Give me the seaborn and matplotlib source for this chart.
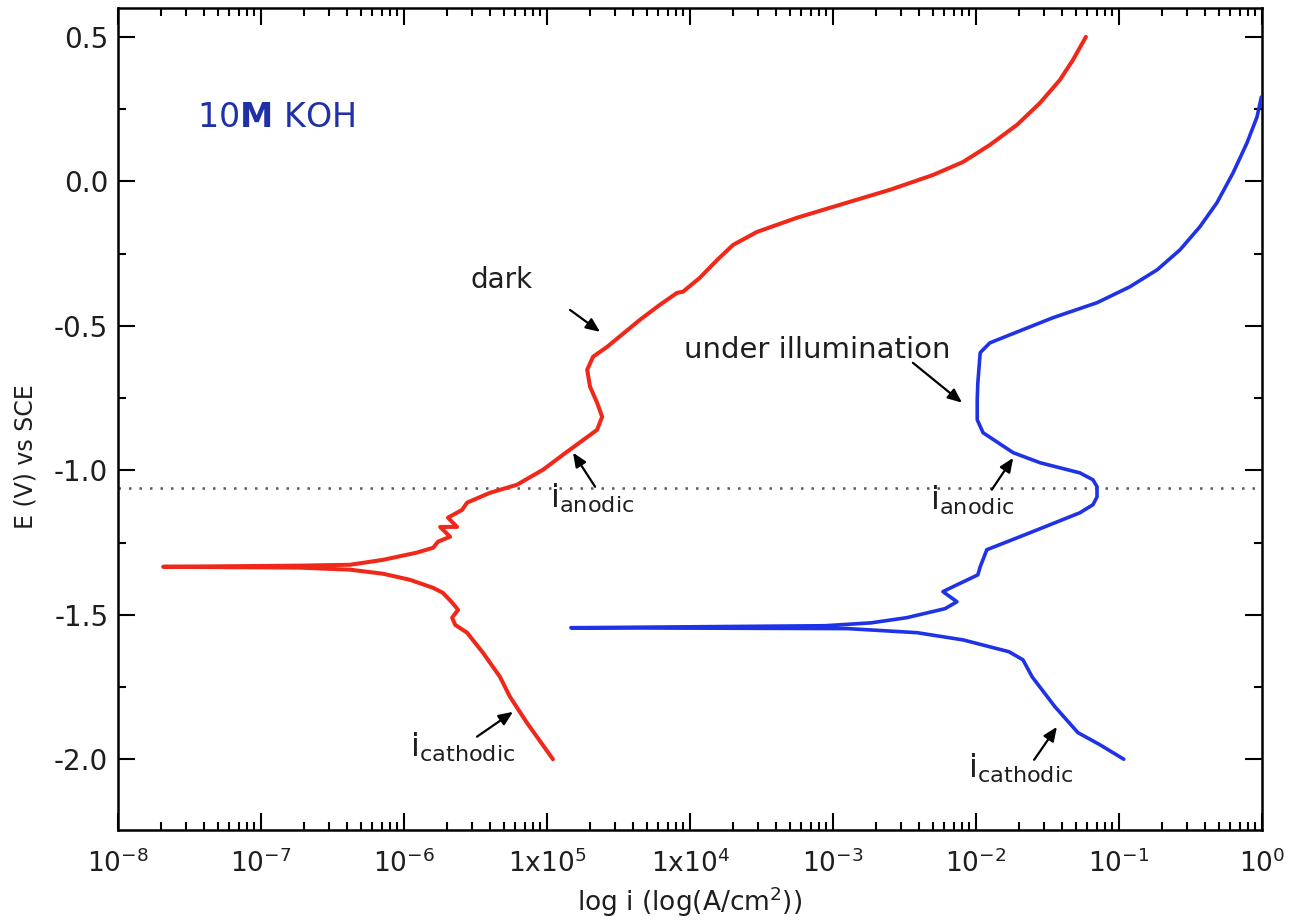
import numpy as np
import pandas as pd
import matplotlib
matplotlib.use("Agg")
import matplotlib.pyplot as plt
import seaborn as sns
from matplotlib.ticker import FixedLocator, LogLocator, MultipleLocator, NullFormatter, FormatStrFormatter

# ---------------- data ----------------
# dark: cathodic branch (from -2.0 V up to Ecorr) followed by anodic branch
dark_current = [1.10e-5, 7.24e-6, 5.51e-6, 4.69e-6, 3.56e-6, 2.76e-6, 2.28e-6, 2.17e-6,
                2.39e-6, 2.17e-6, 1.87e-6, 1.60e-6, 1.10e-6, 7.13e-7, 4.19e-7, 1.88e-7, 2.07e-8,
                1.88e-7, 4.19e-7, 7.13e-7, 1.23e-6, 1.60e-6, 1.73e-6, 2.10e-6, 1.79e-6, 2.35e-6,
                2.03e-6, 2.55e-6, 2.76e-6, 3.99e-6, 6.17e-6, 9.38e-6, 1.38e-5, 2.24e-5, 2.43e-5,
                2.24e-5, 2.00e-5, 1.91e-5, 2.10e-5, 2.63e-5, 4.47e-5, 6.17e-5, 8.11e-5, 8.93e-5,
                1.17e-4, 1.55e-4, 2.00e-4, 2.94e-4, 5.60e-4, 1.12e-3, 2.51e-3, 5.00e-3, 8.11e-3,
                1.25e-2, 1.94e-2, 2.81e-2, 3.86e-2, 4.76e-2, 5.87e-2]
dark_potential = [-2.000, -1.874, -1.784, -1.715, -1.631, -1.562, -1.535, -1.510,
                  -1.483, -1.458, -1.424, -1.407, -1.379, -1.358, -1.344, -1.337, -1.334,
                  -1.330, -1.327, -1.310, -1.285, -1.268, -1.247, -1.230, -1.196, -1.196,
                  -1.164, -1.137, -1.112, -1.078, -1.050, -0.998, -0.936, -0.860, -0.815,
                  -0.766, -0.711, -0.652, -0.607, -0.573, -0.479, -0.427, -0.386, -0.382,
                  -0.334, -0.272, -0.220, -0.175, -0.126, -0.081, -0.029, 0.022, 0.067,
                  0.126, 0.196, 0.272, 0.351, 0.420, 0.500]

# under illumination
light_current = [0.108, 0.0736, 0.0516, 0.0356, 0.0247, 0.0213, 0.0170, 8.11e-3, 3.86e-3,
                 1.27e-3, 1.47e-5,
                 8.79e-4, 1.85e-3, 3.29e-3, 6.07e-3, 7.36e-3, 5.87e-3, 6.90e-3, 1.03e-2,
                 1.07e-2, 1.19e-2, 2.39e-2, 5.33e-2, 6.58e-2, 7.02e-2, 7.02e-2, 6.58e-2,
                 5.33e-2, 2.81e-2, 1.82e-2, 1.12e-2, 1.02e-2, 1.02e-2, 1.03e-2, 1.07e-2,
                 1.25e-2, 1.73e-2, 3.45e-2, 7.02e-2, 0.119, 0.185, 0.267, 0.368, 0.484,
                 0.627, 0.785, 0.923, 0.99]
light_potential = [-2.000, -1.950, -1.908, -1.818, -1.715, -1.656, -1.628, -1.587, -1.562,
                   -1.548, -1.545,
                   -1.538, -1.528, -1.510, -1.479, -1.455, -1.420, -1.403, -1.362,
                   -1.334, -1.275, -1.216, -1.147, -1.119, -1.092, -1.057, -1.033,
                   -1.009, -0.974, -0.939, -0.870, -0.825, -0.756, -0.697, -0.593,
                   -0.559, -0.531, -0.472, -0.420, -0.365, -0.306, -0.237, -0.157, -0.074,
                   0.029, 0.133, 0.223, 0.292]

reference_potential = [-1.06]

xtick_values = [1e-8, 1e-7, 1e-6, 1e-5, 1e-4, 1e-3, 1e-2, 1e-1, 1e0]
xtick_labels = [r"$10^{-8}$", r"$10^{-7}$", r"$10^{-6}$", r"1x10$^{5}$", r"1x10$^{4}$",
                r"$10^{-3}$", r"$10^{-2}$", r"$10^{-1}$", r"$10^{0}$"]

# ---------------- style ----------------
sns.set_theme(style="ticks")
plt.rcParams["font.family"] = ["DejaVu Sans"]
plt.rcParams["mathtext.fontset"] = "dejavusans"
plt.rcParams["axes.unicode_minus"] = False

RED = "#f0281a"
BLUE = "#1e32e6"
TXT = "#1e1e1e"

fig, ax = plt.subplots(figsize=(12.89, 9.24), dpi=100)
fig.subplots_adjust(left=118 / 1289, right=1262 / 1289, top=1 - 8 / 924, bottom=1 - 830 / 924)

dark_df = pd.DataFrame({"current": dark_current, "potential": dark_potential})
light_df = pd.DataFrame({"current": light_current, "potential": light_potential})

ax.axhline(reference_potential[0], color="#5a5a5a", linestyle=(0, (1, 3.2)), linewidth=1.8, zorder=1)

sns.lineplot(data=dark_df, x="current", y="potential", sort=False, estimator=None,
             color=RED, linewidth=2.9, ax=ax, zorder=3)
sns.lineplot(data=light_df, x="current", y="potential", sort=False, estimator=None,
             color=BLUE, linewidth=2.6, ax=ax, zorder=3)

ax.set_xscale("log")
ax.set_xlim(1e-8, 1e0)
ax.set_ylim(-2.245, 0.6)

ax.xaxis.set_major_locator(FixedLocator(xtick_values))
ax.set_xticklabels(xtick_labels)
ax.xaxis.set_minor_locator(LogLocator(base=10, subs=np.arange(2, 10), numticks=100))
ax.xaxis.set_minor_formatter(NullFormatter())
ax.yaxis.set_major_locator(MultipleLocator(0.5))
ax.yaxis.set_minor_locator(MultipleLocator(0.25))
ax.yaxis.set_major_formatter(FormatStrFormatter("%.1f"))

ax.tick_params(which="both", direction="in", top=True, right=True, color="black", width=1.5)
ax.tick_params(which="major", length=12)
ax.tick_params(which="minor", length=6)
ax.tick_params(axis="x", which="major", pad=14, labelsize=19, labelcolor=TXT)
ax.tick_params(axis="y", which="major", pad=7, labelsize=20, labelcolor=TXT)

for sp in ax.spines.values():
    sp.set_linewidth(1.8)
    sp.set_color("black")

ax.set_xlabel(r"log i (log(A/cm$^{2}$))", fontsize=19, color=TXT, va="center")
ax.xaxis.set_label_coords(0.5, -0.0875)
ax.set_ylabel("E (V) vs SCE", fontsize=17, color=TXT, va="center")
ax.yaxis.set_label_coords(-0.081, 0.454)

# ---------------- annotations ----------------
ax.text(3.56e-8, 0.220, r"10$\mathbf{M}$ KOH", color="#2030a8", fontsize=24, va="center", ha="left")

arrow = dict(arrowstyle="-|>,head_length=0.7,head_width=0.3", color="black", lw=1.6, shrinkA=0, shrinkB=0)

ax.text(4.84e-6, -0.341, "dark", fontsize=20, color=TXT, ha="center", va="center")
ax.annotate("", xy=(2.35e-5, -0.521), xytext=(1.45e-5, -0.445), arrowprops=arrow)

ax.text(1.05e-5, -1.130, r"i$_{\mathrm{anodic}}$", fontsize=23, color=TXT, ha="left", va="baseline")
ax.annotate("", xy=(1.52e-5, -0.939), xytext=(2.17e-5, -1.057), arrowprops=arrow)

ax.text(1.10e-6, -1.991, r"i$_{\mathrm{cathodic}}$", fontsize=23, color=TXT, ha="left", va="baseline")
ax.annotate("", xy=(5.78e-6, -1.836), xytext=(3.24e-6, -1.922), arrowprops=arrow)

ax.text(7.73e-4, -0.583, "under illumination", fontsize=21, color=TXT, ha="center", va="center")
ax.annotate("", xy=(7.98e-3, -0.766), xytext=(3.62e-3, -0.628), arrowprops=arrow)

ax.text(4.76e-3, -1.137, r"i$_{\mathrm{anodic}}$", fontsize=23, color=TXT, ha="left", va="baseline")
ax.annotate("", xy=(1.82e-2, -0.957), xytext=(1.29e-2, -1.067), arrowprops=arrow)

ax.text(8.79e-3, -2.064, r"i$_{\mathrm{cathodic}}$", fontsize=23, color=TXT, ha="left", va="baseline")
ax.annotate("", xy=(3.68e-2, -1.888), xytext=(2.55e-2, -2.002), arrowprops=arrow)

fig.savefig("out.png", dpi=100)
